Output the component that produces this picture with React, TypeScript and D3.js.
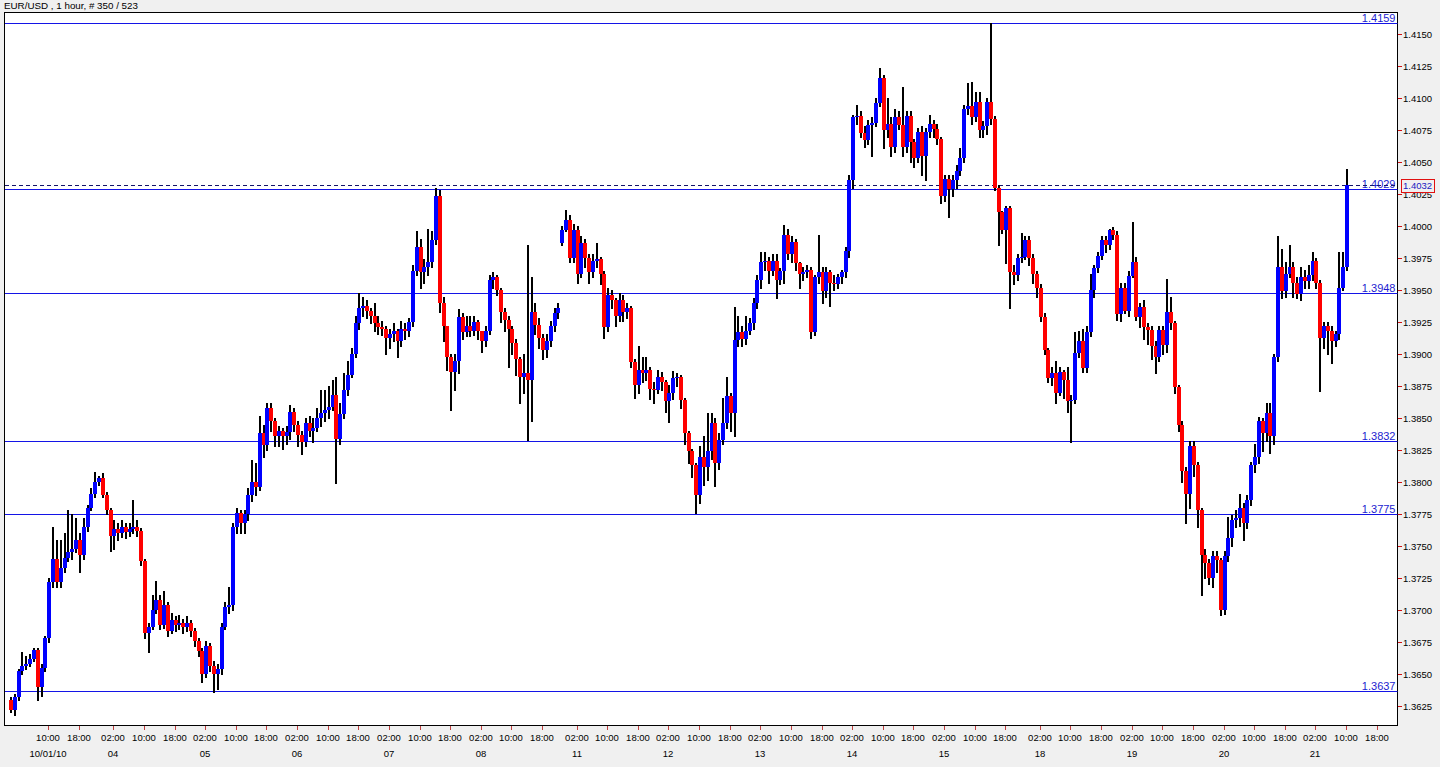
import React from "react";
import * as d3 from "d3";

// EUR/USD hourly candles, 1 Oct - 21 Oct 2010.
// Prices are kept in pips above 1.3600 to keep the rows short.
const BASE = 1.36;

// trading sessions: [day of month, first hour, number of bars]
const sessions: [string, number, number][] = [
  ["01", 0, 24], ["03", 23, 1],
  ["04", 0, 24], ["05", 0, 24], ["06", 0, 24], ["07", 0, 24], ["08", 0, 24], ["10", 23, 1],
  ["11", 0, 24], ["12", 0, 24], ["13", 0, 24], ["14", 0, 24], ["15", 0, 24], ["17", 23, 1],
  ["18", 0, 24], ["19", 0, 24], ["20", 0, 24], ["21", 0, 24],
];
const firstDateLabel = "10/01/10";

const closePips = [
  22, 32, 52, 56, 58, 62, 69, 40, 55, 78, 122, 140, 122, 133, 141, 145, 148, 155, 143, 165, 180, 191, 200, 203,
  190,
  178, 158, 163, 160, 165, 161, 163, 165, 162, 138, 82, 87, 100, 108, 88, 104, 84, 92, 88, 90, 87, 90, 84, 76,
  68, 50, 72, 56, 50, 54, 87, 102, 104, 165, 176, 168, 175, 190, 200, 196, 238, 229, 258, 248, 236, 240, 236, 239,
  255, 245, 237, 231, 246, 240, 242, 250, 254, 256, 259, 268, 234, 253, 272, 284, 300, 324, 336, 338, 334, 330, 324, 321,
  320, 313, 316, 318, 310, 320, 318, 325, 365, 384, 364, 368, 372, 389, 424, 340, 322, 298, 286, 295, 329, 317, 322, 318,
  325, 318, 310, 318, 358, 360, 350, 333, 327, 320, 309, 296, 282, 285, 280, 333, 323, 313, 303, 310, 322, 332, 336, 397,
  405,
  375, 397, 363, 387, 375, 364, 373, 374, 363, 321, 346, 342, 330, 342, 333, 336, 294, 276, 288, 285, 288, 273, 272, 282,
  278, 263, 270, 281, 282, 264, 238, 224, 213, 190, 220, 212, 224, 246, 215, 233, 246, 267, 254, 311, 317, 312, 318, 324,
  340, 358, 372, 373, 365, 373, 358, 365, 393, 378, 388, 371, 363, 364, 366, 317, 360, 364, 349, 364, 356, 355, 360, 364,
  381, 436, 485, 486, 473, 467, 479, 481, 496, 516, 475, 480, 462, 485, 479, 462, 486, 466, 453, 474, 455, 474, 480, 476,
  468, 424, 437, 429, 436, 443, 453, 492, 494, 485, 497, 475, 478, 497, 484, 430, 411, 397, 414, 364, 362, 375, 376, 389,
  375,
  363, 352, 329, 303, 281, 285, 270, 286, 280, 263, 264, 301, 310, 289, 317, 350, 367, 377, 389, 385, 397, 393, 331, 352,
  334, 361, 372, 329, 337, 321, 319, 306, 298, 319, 307, 333, 324, 274, 245, 209, 191, 228, 213, 178, 143, 137, 125, 142,
  139, 100, 142, 156, 170, 172, 180, 168, 186, 213, 220, 248, 238, 254, 236, 298, 368, 349, 363, 368, 356, 347, 360, 357,
  362, 373, 356, 313, 322, 318, 310, 316, 352, 368, 432,
];

const highPips = [
  32, 34, 54, 67, 64, 66, 70, 70, 58, 80, 125, 165, 155, 155, 160, 178, 175, 172, 160, 172, 182, 195, 208, 205,
  207,
  192, 180, 170, 168, 170, 168, 168, 186, 170, 164, 140, 90, 112, 123, 112, 115, 106, 98, 95, 96, 93, 95, 92, 86,
  78, 70, 76, 74, 60, 58, 90, 106, 118, 168, 180, 178, 178, 195, 217, 215, 252, 245, 262, 262, 250, 244, 242, 244,
  260, 258, 248, 240, 250, 252, 250, 258, 272, 272, 275, 280, 282, 262, 285, 295, 305, 330, 348, 345, 342, 336, 340, 330,
  326, 322, 320, 324, 320, 326, 324, 328, 370, 396, 390, 374, 398, 396, 430, 428, 345, 322, 300, 300, 335, 332, 330, 330,
  330, 327, 318, 322, 362, 364, 362, 352, 336, 330, 322, 312, 298, 300, 385, 360, 340, 328, 316, 316, 326, 336, 340, 400,
  413,
  409, 402, 400, 392, 390, 378, 378, 387, 376, 365, 352, 350, 344, 348, 346, 340, 338, 296, 306, 298, 298, 290, 278, 288,
  286, 280, 276, 287, 285, 284, 266, 240, 226, 215, 228, 236, 254, 254, 250, 238, 266, 282, 270, 337, 330, 322, 330, 328,
  344, 362, 380, 380, 376, 378, 378, 367, 401, 398, 392, 390, 372, 368, 370, 368, 362, 393, 368, 368, 366, 362, 363, 366,
  384, 440, 487, 495, 490, 478, 483, 485, 500, 524, 518, 500, 485, 492, 490, 509, 490, 490, 468, 477, 478, 477, 487, 483,
  480, 470, 440, 440, 440, 448, 461, 495, 512, 513, 505, 505, 482, 500, 559, 486, 432, 412, 416, 416, 370, 378, 395, 392,
  392,
  378, 365, 355, 332, 305, 290, 295, 290, 288, 290, 268, 317, 318, 320, 322, 363, 370, 380, 392, 392, 398, 399, 396, 356,
  356, 365, 403, 376, 340, 342, 324, 322, 310, 322, 322, 359, 345, 326, 276, 248, 212, 232, 232, 216, 180, 148, 140, 146,
  146, 141, 146, 173, 174, 178, 191, 184, 190, 216, 230, 251, 250, 262, 262, 300, 392, 382, 372, 385, 372, 360, 368, 366,
  370, 380, 375, 358, 325, 325, 322, 318, 380, 380, 445,
];

const lowPips = [
  20, 18, 30, 50, 54, 56, 60, 30, 33, 52, 75, 118, 118, 118, 130, 138, 140, 145, 130, 140, 162, 178, 188, 198,
  188,
  175, 146, 148, 155, 157, 156, 158, 160, 158, 135, 78, 67, 85, 98, 85, 86, 80, 82, 84, 85, 82, 84, 80, 72,
  64, 44, 48, 52, 36, 38, 50, 85, 98, 100, 160, 160, 160, 170, 185, 190, 194, 220, 225, 240, 228, 228, 226, 230,
  234, 240, 228, 222, 228, 236, 231, 240, 244, 248, 250, 256, 199, 230, 250, 268, 282, 298, 320, 330, 328, 324, 318, 316,
  315, 300, 305, 310, 298, 306, 312, 314, 322, 362, 352, 356, 362, 368, 386, 333, 310, 288, 256, 272, 285, 312, 314, 314,
  315, 312, 302, 306, 316, 352, 346, 325, 318, 290, 300, 284, 262, 270, 233, 248, 316, 305, 296, 298, 306, 318, 328, 385,
  396,
  372, 372, 356, 360, 368, 356, 360, 368, 355, 313, 318, 336, 322, 326, 326, 328, 290, 266, 270, 278, 280, 265, 262, 270,
  272, 255, 247, 265, 275, 258, 230, 215, 204, 176, 184, 198, 202, 218, 197, 210, 230, 242, 240, 236, 306, 306, 308, 316,
  320, 336, 352, 366, 356, 362, 344, 355, 356, 374, 372, 366, 352, 358, 360, 313, 315, 356, 340, 345, 338, 350, 352, 356,
  360, 376, 430, 480, 470, 462, 464, 455, 478, 494, 461, 470, 455, 458, 476, 455, 458, 450, 446, 450, 440, 436, 470, 470,
  464, 418, 420, 407, 424, 430, 440, 450, 488, 480, 482, 470, 470, 472, 480, 428, 385, 395, 371, 336, 355, 358, 372, 374,
  370,
  356, 345, 326, 300, 278, 276, 262, 268, 266, 255, 231, 262, 298, 286, 286, 314, 345, 364, 374, 380, 382, 390, 327, 326,
  332, 330, 360, 327, 321, 312, 308, 296, 285, 295, 300, 302, 320, 270, 240, 200, 168, 180, 205, 165, 112, 125, 120, 118,
  130, 96, 97, 138, 150, 165, 166, 155, 164, 182, 208, 215, 224, 232, 223, 230, 295, 344, 345, 360, 345, 344, 342, 352,
  352, 358, 352, 271, 305, 300, 293, 306, 312, 350, 366,
];

// bars whose open differs from the previous close: [bar, open in pips]
const gapOpens: [number, number][] = [[0, 30], [144, 387]];

// horizontal support / resistance lines
const levels = [1.4159, 1.4029, 1.3948, 1.3832, 1.3775, 1.3637];
const lastPrice = 1.4032;

const priceTicks = [
  "1.3625", "1.3650", "1.3675", "1.3700", "1.3725", "1.3750", "1.3775", "1.3800",
  "1.3825", "1.3850", "1.3875", "1.3900", "1.3925", "1.3950", "1.3975", "1.4000",
  "1.4025", "1.4050", "1.4075", "1.4100", "1.4125", "1.4150",
];

const FONT = "'Liberation Sans', Arial, sans-serif";
const plot = { left: 4.5, top: 12.5, right: 1397.5, bottom: 725.5 };

const App: React.FC = () => {
  const x = d3.scaleLinear().domain([0, 349]).range([10, 1346]);
  const y = d3.scaleLinear().domain([1.3625, 1.415]).range([706, 34.3]);
  const px = (p: number) => BASE + p / 10000;

  // time of each bar slot
  const barTimes: { day: string; hour: number }[] = [];
  sessions.forEach(([day, h0, n]) => {
    for (let k = 0; k < n; k++) barTimes.push({ day, hour: h0 + k });
  });

  const gaps = new Map(gapOpens);
  const n = Math.min(closePips.length, highPips.length, lowPips.length);
  const candles = d3.range(n).map((i) => {
    const c = closePips[i];
    const o = gaps.has(i) ? (gaps.get(i) as number) : closePips[i - 1];
    const h = Math.max(highPips[i], o, c);
    const l = Math.min(lowPips[i], o, c);
    return { i, o: px(o), c: px(c), h: px(h), l: px(l) };
  });

  // time axis ticks every 8 hours (02:00, 10:00, 18:00)
  let first = true;
  const timeTicks: { x: number; time: string; date: string }[] = [];
  barTimes.forEach((t, i) => {
    if (t.hour % 8 !== 2) return;
    const xi = Math.round(x(i));
    if (xi < 30 || xi > plot.right - 8) return;
    const time = `${String(t.hour).padStart(2, "0")}:00`;
    let date = "";
    if (first) {
      date = firstDateLabel;
      first = false;
    } else if (t.hour === 2) date = t.day;
    timeTicks.push({ x: xi, time, date });
  });

  const lineColor = "#1414e6";
  const levelText = "#1c1cd0";
  const yLast = Math.round(y(lastPrice)) + 0.5;

  return (
    <svg
      width={1440}
      height={767}
      style={{ position: "absolute", left: 0, top: 0, display: "block", background: "#f0f0f0" }}
      fontFamily={FONT}
    >
      <defs>
        <clipPath id="plotClip">
          <rect x={plot.left} y={plot.top} width={plot.right - plot.left} height={plot.bottom - plot.top} />
        </clipPath>
      </defs>

      <text x={4} y={8.5} fontSize={9.8} fill="#000">
        EUR/USD , 1 hour, # 350 / 523
      </text>

      <rect
        x={plot.left}
        y={plot.top}
        width={plot.right - plot.left}
        height={plot.bottom - plot.top}
        fill="#fff"
        stroke="#000"
        strokeWidth={1}
        shapeRendering="crispEdges"
      />

      <g clipPath="url(#plotClip)" shapeRendering="crispEdges">
        {/* level lines */}
        {levels.map((lv) => {
          const yy = Math.round(y(lv));
          return (
            <g key={lv}>
              <rect x={plot.left} y={yy} width={plot.right - plot.left} height={1} fill={lineColor} />
              <text x={plot.right - 2} y={yy - 1.5} fontSize={11} textAnchor="end" fill={levelText}>
                {lv.toFixed(4)}
              </text>
            </g>
          );
        })}

        {/* current bid */}
        <line
          x1={plot.left}
          x2={plot.right}
          y1={yLast}
          y2={yLast}
          stroke="#15156a"
          strokeWidth={1}
          strokeDasharray="4,3"
        />

        {/* candles */}
        {candles.map((d) => {
          const cx = Math.round(x(d.i));
          const up = d.c >= d.o;
          const yTop = Math.round(y(Math.max(d.o, d.c)));
          const yBot = Math.round(y(Math.min(d.o, d.c)));
          return (
            <g key={d.i}>
              <rect
                x={cx}
                y={Math.round(y(d.h))}
                width={2}
                height={Math.round(y(d.l)) - Math.round(y(d.h)) + 1}
                fill="#000"
              />
              <rect
                x={cx - 1}
                y={yTop}
                width={4}
                height={Math.max(1, yBot - yTop)}
                fill={up ? "#0000ff" : "#ff0000"}
              />
            </g>
          );
        })}
      </g>

      {/* price axis */}
      <g fontSize={9.5}>
        {priceTicks.map((t) => {
          const yy = Math.round(y(+t)) + 0.5;
          return (
            <g key={t}>
              <line x1={plot.right} x2={plot.right + 4} y1={yy} y2={yy} stroke="#d01010" shapeRendering="crispEdges" />
              <text x={plot.right + 5.5} y={yy} dy="0.35em" fill="#000">
                {t}
              </text>
            </g>
          );
        })}
        <rect
          x={plot.right + 3.5}
          y={yLast - 6.5}
          width={33}
          height={13}
          fill="#f0f0f0"
          stroke="#e01010"
          strokeWidth={1}
          shapeRendering="crispEdges"
        />
        <text x={plot.right + 5.5} y={yLast} dy="0.35em" fill="#2020c0">
          {lastPrice.toFixed(4)}
        </text>
      </g>

      {/* time axis */}
      <g fontSize={9.5} textAnchor="middle">
        {timeTicks.map((t) => (
          <g key={t.x}>
            <line
              x1={t.x + 0.5}
              x2={t.x + 0.5}
              y1={plot.bottom + 0.5}
              y2={plot.bottom + 4}
              stroke="#c04040"
              shapeRendering="crispEdges"
            />
            <text x={t.x} y={741} fill="#000">
              {t.time}
            </text>
            {t.date && (
              <text x={t.x} y={757} fill="#000">
                {t.date}
              </text>
            )}
          </g>
        ))}
      </g>
    </svg>
  );
};

export default App;
